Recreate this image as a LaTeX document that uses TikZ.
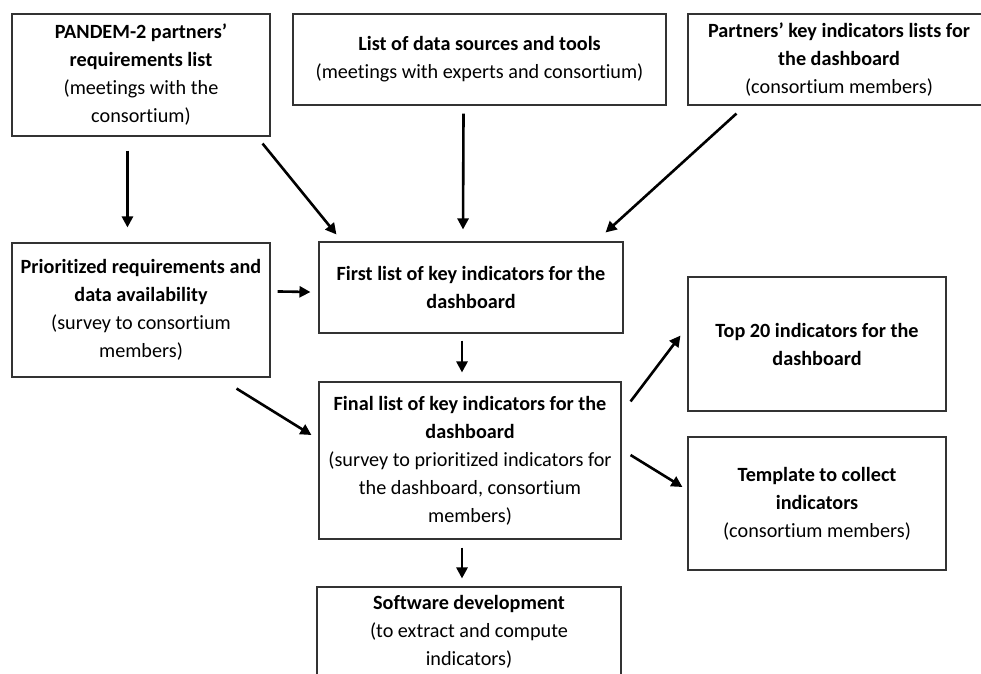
\documentclass[tikz,border=0pt]{standalone}
\usepackage{fontspec}
\setmainfont{Carlito}[RawFeature={-liga}]
\usetikzlibrary{arrows.meta,calc}
\begin{document}
\begin{tikzpicture}[x=1pt,y=-1pt,
  box/.style={draw=black!80, line width=1.1pt, align=center, inner sep=0pt, font=\fontsize{20.2}{28}\selectfont},
  arr/.style={line width=2.6pt, -{Triangle[length=11pt,width=11pt]}}]
\useasboundingbox (0,0) rectangle (981,673);
\fill[white] (0,0) rectangle (981,673);
\clip (0,0) rectangle (981,673);
\node[box, minimum width=258, minimum height=122] (A) at (141,75)
  {\textbf{PANDEM-2 partners’}\\\textbf{requirements list}\\(meetings with the\\consortium)};
\node[box, minimum width=373, minimum height=91] (B) at (479.5,59.5)
  {\textbf{List of data sources and tools}\\(meetings with experts and consortium)};
\node[box, minimum width=302, minimum height=91] (C) at (839,59.5)
  {\textbf{Partners’ key indicators lists for}\\\textbf{the dashboard}\\(consortium members)};
\node[box, minimum width=258, minimum height=134] (D) at (141,310)
  {\textbf{Prioritized requirements and}\\\textbf{data availability}\\(survey to consortium\\members)};
\node[box, minimum width=304, minimum height=91] (E) at (471,287.5)
  {\textbf{First list of key indicators for the}\\\textbf{dashboard}};
\node[box, minimum width=302, minimum height=157] (F) at (470,460.5)
  {\textbf{Final list of key indicators for the}\\\textbf{dashboard}\\(survey to prioritized indicators for\\the dashboard, consortium\\members)};
\node[box, minimum width=304, minimum height=89] (G) at (469,631.5)
  {\textbf{Software development}\\(to extract and compute\\indicators)};
\node[box, minimum width=258, minimum height=134] (H) at (817,344)
  {\textbf{Top 20 indicators for the}\\\textbf{dashboard}};
\node[box, minimum width=258, minimum height=133] (I) at (817,503.5)
  {\textbf{Template to collect}\\\textbf{indicators}\\(consortium members)};
\draw[arr] ($(A.south west)+(116,14)$) -- ($(D.north west)+(116,-15)$);
\draw[arr] ($(A.south east)+(-8,7)$) -- ($(E.north west)+(18,-7)$);
\draw[arr] ($(B.south)+(-16,8)$) -- ($(E.north)+(-8,-12)$);
\draw[arr] ($(C.south west)+(49,8)$) -- ($(E.north east)+(-18,-9)$);
\draw[arr] ($(D.north east)+(7,49)$) -- ($(E.west)+(-8,4.5)$);
\draw[arr] ($(E.south)+(-9,7)$) -- ($(F.north)+(-8,-9)$);
\draw[arr] ($(D.south east)+(-34,11)$) -- ($(F.west)+(-7,-25.5)$);
\draw[arr] ($(F.north east)+(9,20)$) -- ($(H.south west)+(-7,-76)$);
\draw[arr] ($(F.east)+(9,-5.5)$) -- ($(I.west)+(-5,-16.5)$);
\draw[arr] ($(F.south)+(-8,8)$) -- ($(G.north)+(-7,-8)$);
\end{tikzpicture}
\end{document}
